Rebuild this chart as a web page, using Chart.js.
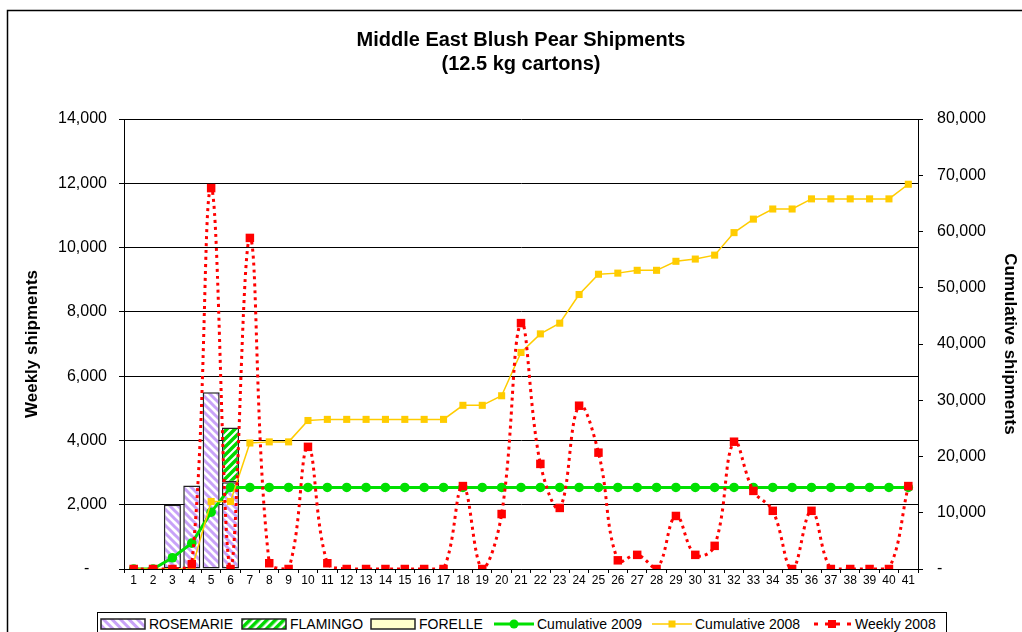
<!DOCTYPE html>
<html>
<head>
<meta charset="utf-8">
<title>Middle East Blush Pear Shipments</title>
<script src="https://cdn.jsdelivr.net/npm/chart.js@4.4.1/dist/chart.umd.min.js"></script>
<style>
  html, body { margin: 0; padding: 0; background: #fff; }
  #wrap { position: relative; width: 1022px; height: 632px; overflow: hidden; font-family: "Liberation Sans", Arial, sans-serif; }
  #chart { position: absolute; left: 0; top: 0; }
  #legend { position: absolute; left: 97px; top: 612px; width: 850px; height: 40px; border: 1px solid #000; background: #fff; box-sizing: border-box; font-size: 14px; color: #000; }
  .item { position: absolute; top: 2px; height: 18px; display: flex; align-items: center; white-space: nowrap; }
  .item svg { margin-right: 3px; }
</style>
</head>
<body>
<div id="wrap">
  <canvas id="chart" width="1022" height="632"></canvas>
  <div id="legend">
    <div class="item" style="left:2px">
      <svg width="46" height="12"><defs><pattern id="pr" width="6" height="6" patternUnits="userSpaceOnUse" patternTransform="rotate(-45)"><rect width="6" height="6" fill="#fff"/><rect width="3" height="6" fill="#C8A2F8"/></pattern></defs><rect x="1" y="1" width="44" height="10" fill="url(#pr)" stroke="#222" stroke-width="1.5"/></svg>ROSEMARIE
    </div>
    <div class="item" style="left:143px">
      <svg width="46" height="12"><defs><pattern id="pf" width="6" height="6" patternUnits="userSpaceOnUse" patternTransform="rotate(45)"><rect width="6" height="6" fill="#fff"/><rect width="3.5" height="6" fill="#00D800"/></pattern></defs><rect x="1" y="1" width="44" height="10" fill="url(#pf)" stroke="#222" stroke-width="1.5"/></svg>FLAMINGO
    </div>
    <div class="item" style="left:272px">
      <svg width="46" height="12"><rect x="1" y="1" width="44" height="10" fill="#FFFFCC" stroke="#222" stroke-width="1.5"/></svg>FORELLE
    </div>
    <div class="item" style="left:396px">
      <svg width="40" height="12"><line x1="0" y1="6" x2="40" y2="6" stroke="#00E000" stroke-width="3"/><circle cx="20" cy="6" r="4.5" fill="#00E000"/></svg>Cumulative 2009
    </div>
    <div class="item" style="left:554px">
      <svg width="40" height="12"><line x1="0" y1="6" x2="40" y2="6" stroke="#FFCC00" stroke-width="1.5"/><rect x="16.5" y="2.5" width="7" height="7" fill="#FFCC00"/></svg>Cumulative 2008
    </div>
    <div class="item" style="left:714px">
      <svg width="40" height="12"><line x1="2" y1="6" x2="40" y2="6" stroke="#FF0000" stroke-width="3" stroke-dasharray="4 7"/><rect x="16" y="2" width="8" height="8" fill="#FF0000"/></svg>Weekly 2008
    </div>
  </div>
</div>
<script>
const weeks = ['1','2','3','4','5','6','7','8','9','10','11','12','13','14','15','16','17','18','19','20',
  '21','22','23','24','25','26','27','28','29','30','31','32','33','34','35','36','37','38','39','40','41'];

// 2009 weekly shipments by cultivar (only the first weeks have data)
const rosemarie = [null, null, 2000, 2600, 5500, 2700];
const flamingo = [null, null, null, null, null, 1700];
const forelle = [null, null, null, null, null, null];

const cumulative2009 = [0, 0, 2000, 4600, 10100, 14500, 14500, 14500, 14500, 14500, 14500, 14500, 14500, 14500,
  14500, 14500, 14500, 14500, 14500, 14500, 14500, 14500, 14500, 14500, 14500, 14500, 14500, 14500, 14500,
  14500, 14500, 14500, 14500, 14500, 14500, 14500, 14500, 14500, 14500, 14500, 14500];

const cumulative2008 = [0, 0, 0, 0, 12000, 12000, 22400, 22600, 22600, 26400, 26600, 26600, 26600, 26600,
  26600, 26600, 26600, 29100, 29100, 30800, 38500, 41800, 43700, 48800, 52400, 52600, 53100, 53100, 54700,
  55100, 55800, 59800, 62200, 64000, 64000, 65800, 65800, 65800, 65800, 65800, 68400];

const weekly2008 = [0, 0, 0, 150, 11850, 0, 10300, 180, 0, 3800, 180, 0, 0, 0, 0, 0, 0, 2580, 0, 1710,
  7650, 3270, 1900, 5080, 3620, 270, 440, 0, 1650, 440, 720, 3960, 2430, 1810, 0, 1810, 0, 0, 0, 0, 2580];

const leftTicks = { min: 0, max: 14000, step: 2000 };
const rightTicks = { min: 0, max: 80000, step: 10000 };

function stripes(color, up, width) {
  const c = document.createElement('canvas');
  c.width = 8; c.height = 8;
  const g = c.getContext('2d');
  g.fillStyle = '#fff';
  g.fillRect(0, 0, 8, 8);
  g.strokeStyle = color;
  g.lineWidth = width;
  g.beginPath();
  if (up) {
    g.moveTo(-2, 10); g.lineTo(10, -2);
    g.moveTo(-2, 2); g.lineTo(2, -2);
    g.moveTo(6, 10); g.lineTo(10, 6);
  } else {
    g.moveTo(-2, -2); g.lineTo(10, 10);
    g.moveTo(-2, 6); g.lineTo(2, 10);
    g.moveTo(6, -2); g.lineTo(10, 2);
  }
  g.stroke();
  return g.createPattern(c, 'repeat');
}

// outer frame of the chart object (runs off the right and bottom edges)
const framePlugin = {
  id: 'frame',
  beforeDraw(chart) {
    const ctx = chart.ctx;
    ctx.save();
    ctx.fillStyle = '#fff';
    ctx.fillRect(0, 0, chart.width, chart.height);
    ctx.strokeStyle = '#000';
    ctx.lineWidth = 1.5;
    ctx.beginPath();
    ctx.moveTo(7.5, 700);
    ctx.lineTo(7.5, 10.5);
    ctx.lineTo(1040, 10.5);
    ctx.stroke();
    ctx.restore();
  }
};

Chart.defaults.font.family = '"Liberation Sans", Arial, sans-serif';
Chart.defaults.color = '#000';

const barStyle = {
  borderColor: '#222',
  borderWidth: 1.5,
  borderSkipped: false,
  categoryPercentage: 1,
  barPercentage: 0.88,
  stack: 'cultivars',
  yAxisID: 'y'
};

new Chart(document.getElementById('chart'), {
  type: 'bar',
  data: {
    labels: weeks,
    datasets: [
      {
        type: 'line',
        label: 'Weekly 2008',
        data: weekly2008,
        yAxisID: 'y',
        stack: 'w2008',
        borderColor: '#FF0000',
        borderWidth: 3,
        borderDash: [3, 4],
        tension: 0.4,
        fill: false,
        pointStyle: 'rect',
        pointRadius: 6,
        pointBorderWidth: 0,
        pointBackgroundColor: '#FF0000',
        order: 0
      },
      {
        type: 'line',
        label: 'Cumulative 2008',
        data: cumulative2008,
        yAxisID: 'y1',
        borderColor: '#FFCC00',
        borderWidth: 1.5,
        tension: 0,
        fill: false,
        pointStyle: 'rect',
        pointRadius: 5,
        pointBorderWidth: 0,
        pointBackgroundColor: '#FFCC00',
        order: 1
      },
      {
        type: 'line',
        label: 'Cumulative 2009',
        data: cumulative2009,
        yAxisID: 'y1',
        borderColor: '#00E000',
        borderWidth: 3,
        tension: 0,
        fill: false,
        pointStyle: 'circle',
        pointRadius: 4.8,
        pointBorderWidth: 0,
        pointBackgroundColor: '#00E000',
        order: 2
      },
      // stacking follows 'order', so ROSEMARIE (lowest) sits at the bottom
      Object.assign({ label: 'ROSEMARIE', data: rosemarie, backgroundColor: stripes('#C8A2F8', false, 3), order: 3 }, barStyle),
      Object.assign({ label: 'FLAMINGO', data: flamingo, backgroundColor: stripes('#00D800', true, 3.5), order: 4 }, barStyle),
      Object.assign({ label: 'FORELLE', data: forelle, backgroundColor: '#FFFFCC', order: 5 }, barStyle)
    ]
  },
  options: {
    responsive: false,
    animation: false,
    layout: { padding: { left: 20, right: 0, top: 0, bottom: 40 } },
    scales: {
      x: {
        stacked: true,
        offset: true,
        grid: { display: true, drawOnChartArea: false, drawTicks: true, tickLength: 4, color: '#000', offset: true },
        border: { display: true, color: '#000', width: 1 },
        ticks: { color: '#000', font: { size: 12 }, padding: 0, maxRotation: 0, autoSkip: false },
        afterFit(scale) { scale.height = 23; }
      },
      y: {
        position: 'left',
        stacked: true,
        min: leftTicks.min,
        max: leftTicks.max,
        ticks: {
          stepSize: leftTicks.step,
          color: '#000',
          font: { size: 16 },
          padding: 12,
          callback: v => v === 0 ? '-    ' : v.toLocaleString('en-US')
        },
        grid: { color: '#000', lineWidth: 1, tickLength: 5 },
        border: { display: true, color: '#000', width: 1 },
        title: { display: true, text: 'Weekly shipments', color: '#000', font: { size: 17, weight: 'bold' }, padding: { top: 2, bottom: 0 } },
        afterFit(scale) { scale.width = 104; }
      },
      y1: {
        position: 'right',
        min: rightTicks.min,
        max: rightTicks.max,
        ticks: {
          stepSize: rightTicks.step,
          color: '#000',
          font: { size: 16 },
          padding: 14,
          callback: v => v === 0 ? '-' : v.toLocaleString('en-US')
        },
        grid: { drawOnChartArea: false, color: '#000', tickLength: 5 },
        border: { display: true, color: '#000', width: 1 },
        title: { display: true, text: 'Cumulative shipments', color: '#000', font: { size: 17, weight: 'bold' }, padding: { top: 2, bottom: 0 } },
        afterFit(scale) { scale.width = 104; }
      }
    },
    plugins: {
      legend: { display: false },
      tooltip: { enabled: false },
      title: {
        display: true,
        text: ['Middle East Blush Pear Shipments', '(12.5 kg cartons)'],
        color: '#000',
        font: { size: 20, weight: 'bold', lineHeight: 1.2 },
        padding: { top: 28, bottom: 43 }
      }
    }
  },
  plugins: [framePlugin]
});
</script>
</body>
</html>
